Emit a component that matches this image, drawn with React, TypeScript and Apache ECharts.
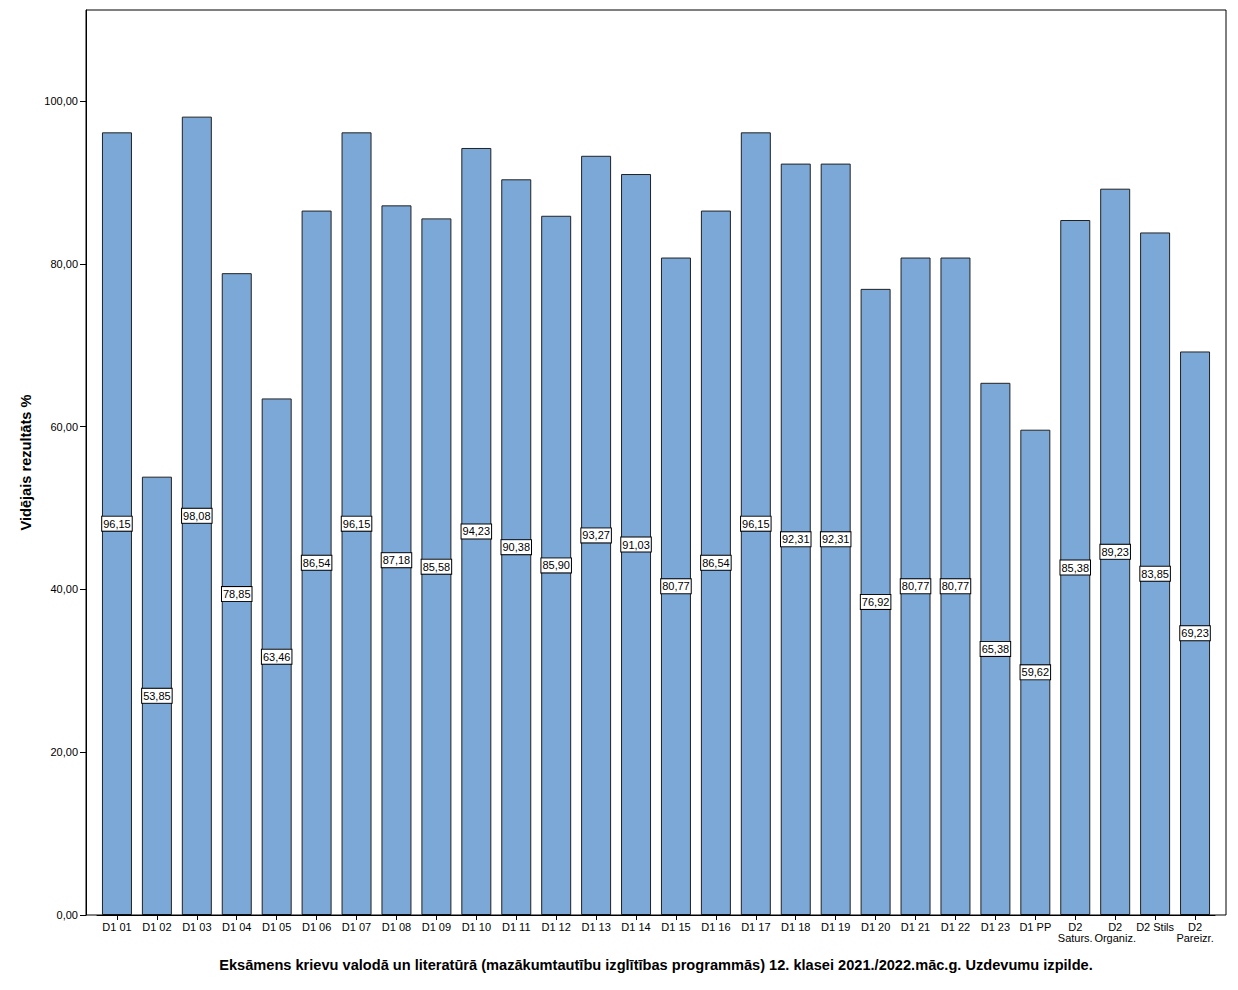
import React, { useEffect, useRef } from "react";
import * as echarts from "echarts";

const categories = [
  "D1 01", "D1 02", "D1 03", "D1 04", "D1 05", "D1 06", "D1 07", "D1 08", "D1 09", "D1 10",
  "D1 11", "D1 12", "D1 13", "D1 14", "D1 15", "D1 16", "D1 17", "D1 18", "D1 19", "D1 20",
  "D1 21", "D1 22", "D1 23", "D1 PP", "D2\nSaturs.", "D2\nOrganiz.", "D2 Stils", "D2\nPareizr.",
];

const values = [
  96.15, 53.85, 98.08, 78.85, 63.46, 86.54, 96.15, 87.18, 85.58, 94.23,
  90.38, 85.9, 93.27, 91.03, 80.77, 86.54, 96.15, 92.31, 92.31, 76.92,
  80.77, 80.77, 65.38, 59.62, 85.38, 89.23, 83.85, 69.23,
];

const yTicks = [0, 20, 40, 60, 80, 100];

const yTitle = "Vidējais rezultāts %";
const xTitle =
  "Eksāmens krievu valodā un literatūrā (mazākumtautību izglītības programmās) 12. klasei 2021./2022.māc.g. Uzdevumu izpilde.";

const FONT = "Liberation Sans, Arial, sans-serif";

export default function App() {
  const ref = useRef<HTMLDivElement>(null);
  useEffect(() => {
    if (!ref.current) return;
    const chart = echarts.init(ref.current, null, { renderer: "svg" });
    const fmt = (v: number) => v.toFixed(2).replace(".", ",");
    chart.setOption({
      animation: false,
      backgroundColor: "#ffffff",
      textStyle: { fontFamily: FONT },
      grid: { left: 97, right: 23, top: 10, bottom: 75 },
      graphic: [
        {
          type: "rect",
          x: 86,
          y: 10,
          shape: { x: 0, y: 0, width: 1140, height: 905 },
          style: { fill: "none", stroke: "#000", lineWidth: 1 },
          silent: true,
          z: 10,
        },
        {
          type: "text",
          x: 656,
          y: 957,
          style: {
            text: xTitle,
            font: `bold 14.6px ${FONT}`,
            fill: "#000",
            align: "center",
            verticalAlign: "top",
          },
        },
      ],
      xAxis: {
        type: "category",
        data: categories,
        axisLine: { show: true, lineStyle: { color: "#000" } },
        axisTick: { show: true, alignWithLabel: true, length: 5, lineStyle: { color: "#000" } },
        axisLabel: {
          interval: 0,
          color: "#000",
          fontSize: 11,
          fontFamily: FONT,
          margin: 6,
          lineHeight: 11,
        },
      },
      yAxis: {
        type: "value",
        min: 0,
        max: 111.18,
        interval: 20,
        offset: 11,
        name: yTitle,
        nameLocation: "middle",
        nameGap: 45,
        nameTextStyle: { fontSize: 14.6, fontWeight: "bold", color: "#000", fontFamily: FONT },
        axisLine: { show: true, lineStyle: { color: "#000" } },
        axisTick: { show: true, length: 6, lineStyle: { color: "#000" } },
        splitLine: { show: false },
        axisLabel: {
          color: "#000",
          fontSize: 11,
          fontFamily: FONT,
          margin: 8,
          showMaxLabel: false,
          formatter: (v: number) => (yTicks.includes(v) ? fmt(v) : ""),
        },
      },
      series: [
        {
          type: "bar",
          data: values,
          barWidth: 30,
          itemStyle: { color: "#7BA8D7", borderColor: "#222", borderWidth: 1 },
          label: {
            show: true,
            position: "inside",
            formatter: (p: any) => fmt(p.value),
            color: "#000",
            fontSize: 11,
            fontFamily: FONT,
            backgroundColor: "#fff",
            borderColor: "#000",
            borderWidth: 1,
            padding: [2, 1, 1, 1],
          },
        },
      ],
    });
    return () => chart.dispose();
  }, []);
  return (
    <div
      ref={ref}
      style={{ position: "absolute", left: 0, top: 0, width: 1238, height: 990 }}
    />
  );
}
